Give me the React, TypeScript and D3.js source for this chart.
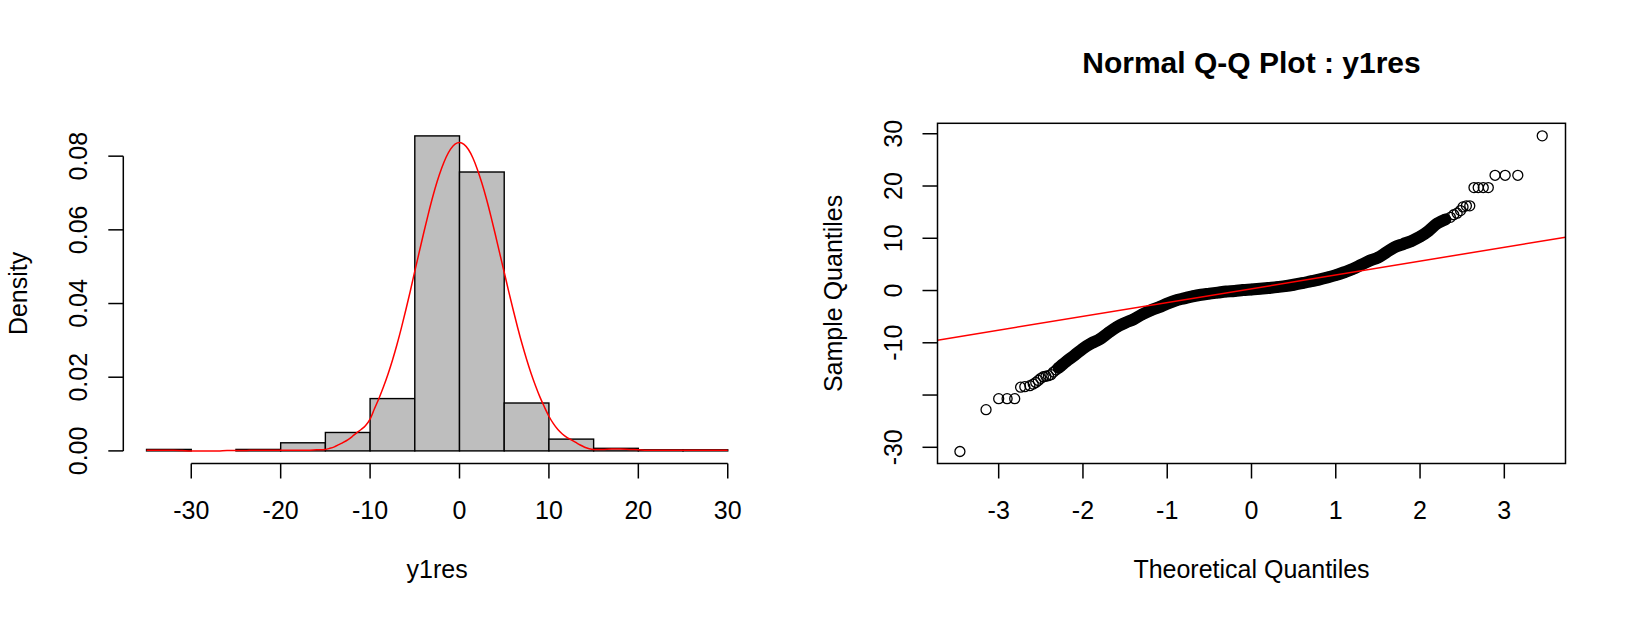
import React, { useEffect, useRef } from 'react';
import * as d3 from 'd3';

// histogram of y1res, density scale, breaks every 5
const histBreaks = [-35, -30, -25, -20, -15, -10, -5, 0, 5, 10, 15, 20, 25, 30];
const histDensity = [0.0004, 0, 0.0004, 0.0022, 0.005, 0.0142, 0.0855, 0.0757, 0.013, 0.0032, 0.0007, 0.0003, 0.0003];

// red density curve
const densX = [
  -35, -34, -33, -32, -31, -30, -29, -28, -27, -26, -25, -24, -23, -22, -21, -20, -19, -18, -17, -16,
  -15, -14.5, -14, -13.5, -13, -12.5, -12, -11.5, -11, -10.5, -10, -9.5, -9, -8.5, -8, -7.5, -7, -6.5, -6, -5.5,
  -5, -4.5, -4, -3.5, -3, -2.5, -2, -1.5, -1, -0.5, 0, 0.5, 1, 1.5, 2, 2.5, 3, 3.5, 4, 4.5,
  5, 5.5, 6, 6.5, 7, 7.5, 8, 8.5, 9, 9.5, 10, 10.5, 11, 11.5, 12, 12.5, 13, 13.5, 14, 14.5, 15,
  16, 17, 18, 19, 20, 21, 22, 23, 24, 25, 26, 27, 28, 29, 30,
];
const densY = [
  0.0002, 0.0002, 0.0002, 0.0002, 0.0001, 0, 0, 0, 0, 0.0001, 0.0001, 0.0001, 0.0002, 0.0002, 0.0002, 0.0002, 0.0002, 0.0002, 0.0002, 0.0003,
  0.0004, 0.0007, 0.0011, 0.0017, 0.0023, 0.003, 0.0039, 0.0049, 0.0058, 0.0069, 0.0086, 0.0115, 0.0143, 0.0174, 0.0208, 0.0246, 0.0288, 0.0334, 0.0383, 0.0434,
  0.0488, 0.054, 0.0592, 0.0642, 0.0689, 0.0731, 0.0767, 0.0797, 0.0819, 0.0833, 0.0837, 0.0832, 0.0818, 0.0795, 0.0764, 0.0727, 0.0685, 0.0638, 0.0588, 0.0536,
  0.0485, 0.0433, 0.0383, 0.0335, 0.029, 0.0249, 0.0211, 0.0177, 0.0146, 0.0119, 0.0094, 0.0074, 0.0058, 0.0046, 0.0037, 0.003, 0.0023, 0.0016, 0.001, 0.0006, 0.0004,
  0.0004, 0.0005, 0.0005, 0.0004, 0.0003, 0.0002, 0.0002, 0.0002, 0.0002, 0.0002, 0.0002, 0.0002, 0.0002, 0.0002, 0.0002,
];

const histXTicks = [-30, -20, -10, 0, 10, 20, 30];
const histYTicks = [0, 0.02, 0.04, 0.06, 0.08];

// normal Q-Q points (theoretical, sample)
const qqTheo = [
  -3.46, -3.15, -3.0, -2.9, -2.81, -2.74, -2.69, -2.63, -2.59, -2.56, -2.53, -2.5, -2.47, -2.44, -2.41, -2.38, -2.35, -2.32, -2.29, -2.26,
  -2.2, -2.1, -2.0, -1.9, -1.8, -1.7, -1.6, -1.5, -1.4, -1.3, -1.2, -1.1, -1.0, -0.9, -0.8, -0.7, -0.6, -0.5, -0.4, -0.3, -0.2, -0.1,
  0, 0.1, 0.2, 0.3, 0.4, 0.5, 0.6, 0.7, 0.8, 0.9, 1.0, 1.1, 1.2, 1.3, 1.4, 1.5, 1.6, 1.7, 1.8, 1.9, 2.0, 2.1, 2.2, 2.3,
  2.36, 2.4, 2.44, 2.48, 2.51, 2.55, 2.59, 2.64, 2.69, 2.75, 2.81, 2.89, 3.01, 3.16, 3.45,
];
const qqSample = [
  -30.8, -22.8, -20.7, -20.7, -20.7, -18.5, -18.4, -18.2, -17.9, -17.6, -17.2, -16.8, -16.5, -16.4, -16.3, -16.1, -15.6, -15.2, -14.8, -14.4,
  -13.6, -12.4, -11.1, -10.1, -9.3, -8.1, -7.0, -6.2, -5.5, -4.6, -3.8, -3.2, -2.5, -1.9, -1.5, -1.1, -0.8, -0.6, -0.4, -0.2, -0.1, 0.1,
  0.2, 0.35, 0.5, 0.65, 0.85, 1.1, 1.4, 1.75, 2.1, 2.5, 2.95, 3.5, 4.1, 4.9, 5.7, 6.3, 7.3, 8.3, 8.9, 9.5, 10.3, 11.4, 12.8, 13.6,
  14.0, 14.5, 14.8, 15.3, 16.0, 16.2, 16.2, 19.7, 19.7, 19.7, 19.7, 22.05, 22.05, 22.05, 29.6,
];
const qqXTicks = [-3, -2, -1, 0, 1, 2, 3];
const qqYTicks = [-30, -20, -10, 0, 10, 20, 30];
const qqYLabels = ['-30', '', '-10', '0', '10', '20', '30'];
const qqLineIntercept = 0.34;
const qqLineSlope = 2.644;

const FONT = "'Liberation Sans', Arial, sans-serif";

const App = () => {
  const ref = useRef<SVGSVGElement | null>(null);

  useEffect(() => {
    const svg = d3.select(ref.current);
    svg.selectAll('*').remove();

    const line = 30; // one R margin line in px
    const top = 123.3;
    const bottom = 463.5;

    // ---------- left: histogram ----------
    const hx = d3.scaleLinear().domain([-37.6, 32.6]).range([123.3, 751]);
    const hy = d3.scaleLinear().domain([-0.00342, 0.08892]).range([bottom, top]);

    const g1 = svg.append('g');
    g1.selectAll('rect')
      .data(histDensity)
      .enter()
      .append('rect')
      .attr('x', (d, i) => hx(histBreaks[i]))
      .attr('width', (d, i) => hx(histBreaks[i + 1]) - hx(histBreaks[i]))
      .attr('y', d => hy(d))
      .attr('height', d => hy(0) - hy(d))
      .attr('fill', '#bebebe')
      .attr('stroke', '#000')
      .attr('stroke-width', 1.4);

    const densLine = d3.line<number>()
      .x((d, i) => hx(densX[i]))
      .y(d => hy(d))
      .curve(d3.curveMonotoneX);
    g1.append('path')
      .attr('d', densLine(densY))
      .attr('fill', 'none')
      .attr('stroke', '#ff0000')
      .attr('stroke-width', 1.5);

    // x axis
    g1.append('line')
      .attr('x1', hx(histXTicks[0])).attr('x2', hx(histXTicks[histXTicks.length - 1]))
      .attr('y1', bottom).attr('y2', bottom)
      .attr('stroke', '#000').attr('stroke-width', 1.5);
    histXTicks.forEach(t => {
      g1.append('line')
        .attr('x1', hx(t)).attr('x2', hx(t))
        .attr('y1', bottom).attr('y2', bottom + line / 2)
        .attr('stroke', '#000').attr('stroke-width', 1.5);
      g1.append('text')
        .attr('x', hx(t)).attr('y', bottom + 1.85 * line)
        .attr('text-anchor', 'middle')
        .attr('font-family', FONT).attr('font-size', 25)
        .text(t);
    });

    // y axis
    g1.append('line')
      .attr('x1', 123.3).attr('x2', 123.3)
      .attr('y1', hy(0)).attr('y2', hy(0.08))
      .attr('stroke', '#000').attr('stroke-width', 1.5);
    histYTicks.forEach(t => {
      g1.append('line')
        .attr('x1', 123.3).attr('x2', 123.3 - line / 2)
        .attr('y1', hy(t)).attr('y2', hy(t))
        .attr('stroke', '#000').attr('stroke-width', 1.5);
      g1.append('text')
        .attr('transform', `translate(${123.3 - 1.2 * line},${hy(t)}) rotate(-90)`)
        .attr('text-anchor', 'middle')
        .attr('font-family', FONT).attr('font-size', 25)
        .text(d3.format('.2f')(t));
    });

    g1.append('text')
      .attr('transform', `translate(${123.3 - 3.2 * line},${(top + bottom) / 2}) rotate(-90)`)
      .attr('text-anchor', 'middle')
      .attr('font-family', FONT).attr('font-size', 25)
      .text('Density');
    g1.append('text')
      .attr('x', (123.3 + 751) / 2).attr('y', bottom + 3.8 * line)
      .attr('text-anchor', 'middle')
      .attr('font-family', FONT).attr('font-size', 25)
      .text('y1res');

    // ---------- right: normal Q-Q ----------
    const left = 937.5;
    const right = 1565.5;
    const qx = d3.scaleLinear().domain([-3.726, 3.726]).range([left, right]);
    const qy = d3.scaleLinear().domain([-33.1, 32.0]).range([bottom, top]);

    const g2 = svg.append('g');

    // dense middle part: overlapping circles merge into a solid band
    const bandIdx = qqTheo.map((t, i) => i).filter(i => qqTheo[i] >= -2.3 && qqTheo[i] <= 2.32);
    const band = d3.line<number>()
      .x(i => qx(qqTheo[i]))
      .y(i => qy(qqSample[i]))
      .curve(d3.curveMonotoneX);
    g2.append('path')
      .attr('d', band(bandIdx))
      .attr('fill', 'none')
      .attr('stroke', '#000')
      .attr('stroke-width', 12)
      .attr('stroke-linecap', 'round')
      .attr('stroke-linejoin', 'round');

    g2.selectAll('circle')
      .data(qqSample)
      .enter()
      .append('circle')
      .attr('cx', (d, i) => qx(qqTheo[i]))
      .attr('cy', d => qy(d))
      .attr('r', 5)
      .attr('fill', 'none')
      .attr('stroke', '#000')
      .attr('stroke-width', 1.3);

    const [t0, t1] = qx.domain();
    g2.append('line')
      .attr('x1', qx(t0)).attr('y1', qy(qqLineIntercept + qqLineSlope * t0))
      .attr('x2', qx(t1)).attr('y2', qy(qqLineIntercept + qqLineSlope * t1))
      .attr('stroke', '#ff0000')
      .attr('stroke-width', 1.5);

    g2.append('rect')
      .attr('x', left).attr('y', top)
      .attr('width', right - left).attr('height', bottom - top)
      .attr('fill', 'none')
      .attr('stroke', '#000').attr('stroke-width', 1.5);

    qqXTicks.forEach(t => {
      g2.append('line')
        .attr('x1', qx(t)).attr('x2', qx(t))
        .attr('y1', bottom).attr('y2', bottom + line / 2)
        .attr('stroke', '#000').attr('stroke-width', 1.5);
      g2.append('text')
        .attr('x', qx(t)).attr('y', bottom + 1.85 * line)
        .attr('text-anchor', 'middle')
        .attr('font-family', FONT).attr('font-size', 25)
        .text(t);
    });
    qqYTicks.forEach((t, i) => {
      g2.append('line')
        .attr('x1', left).attr('x2', left - line / 2)
        .attr('y1', qy(t)).attr('y2', qy(t))
        .attr('stroke', '#000').attr('stroke-width', 1.5);
      g2.append('text')
        .attr('transform', `translate(${left - 1.2 * line},${qy(t)}) rotate(-90)`)
        .attr('text-anchor', 'middle')
        .attr('font-family', FONT).attr('font-size', 25)
        .text(qqYLabels[i]);
    });

    g2.append('text')
      .attr('x', (left + right) / 2).attr('y', 73)
      .attr('text-anchor', 'middle')
      .attr('font-family', FONT).attr('font-size', 30).attr('font-weight', 'bold')
      .text('Normal Q-Q Plot : y1res');
    g2.append('text')
      .attr('x', (left + right) / 2).attr('y', bottom + 3.8 * line)
      .attr('text-anchor', 'middle')
      .attr('font-family', FONT).attr('font-size', 25)
      .text('Theoretical Quantiles');
    g2.append('text')
      .attr('transform', `translate(${left - 3.2 * line},${(top + bottom) / 2}) rotate(-90)`)
      .attr('text-anchor', 'middle')
      .attr('font-family', FONT).attr('font-size', 25)
      .text('Sample Quantiles');
  }, []);

  return (
    <svg
      ref={ref}
      width={1630}
      height={618}
      style={{ position: 'absolute', left: 0, top: 0, background: '#fff' }}
    />
  );
};

export default App;
